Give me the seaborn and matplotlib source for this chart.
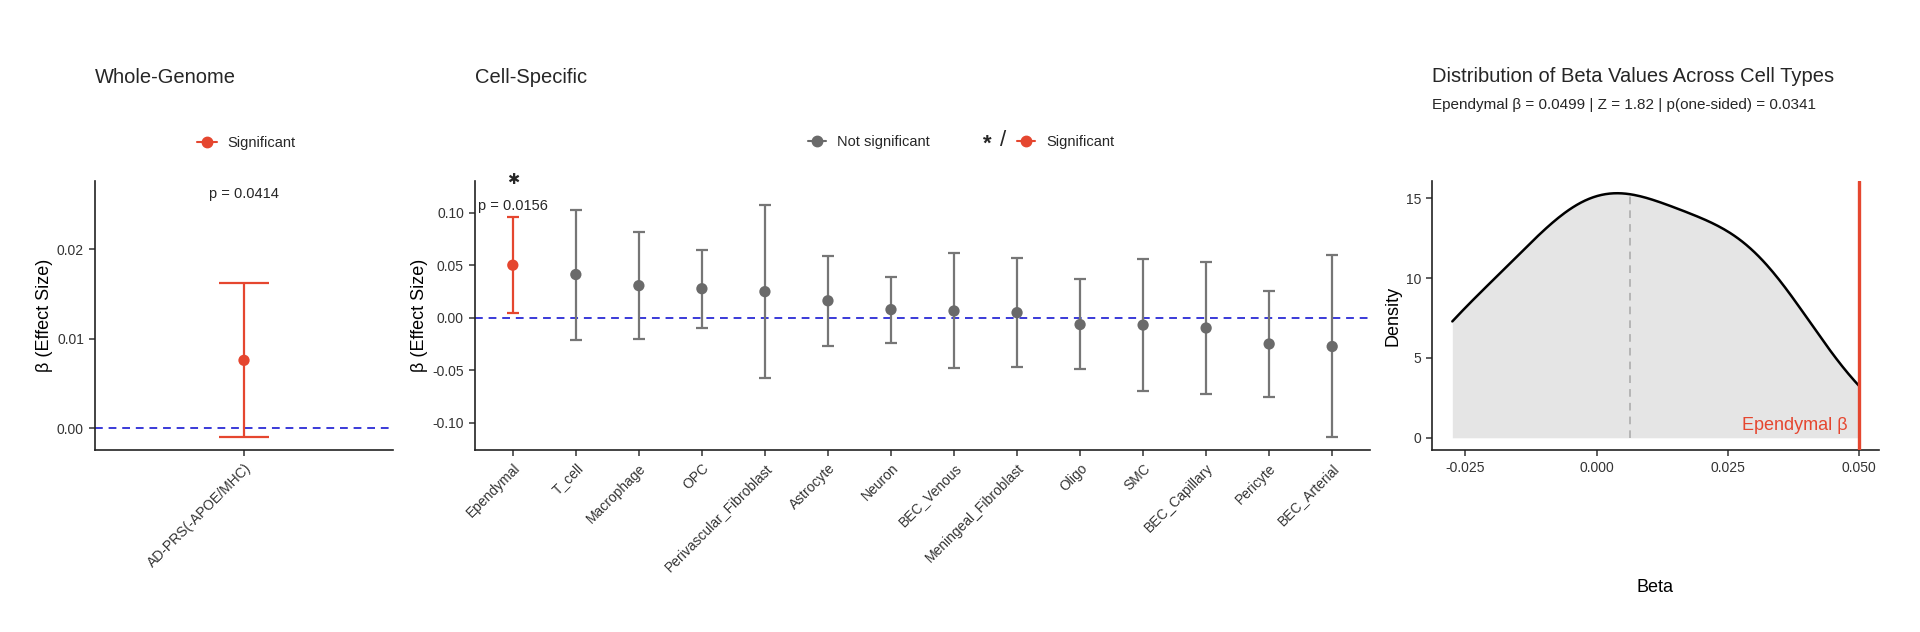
import numpy as np
import pandas as pd
import matplotlib
matplotlib.use('Agg')
import matplotlib.pyplot as plt
from matplotlib.lines import Line2D
import seaborn as sns

# ---- data ----
wg_label = ['AD-PRS(-APOE/MHC)']
wg_beta = [0.0076]
wg_lo = [-0.0010]
wg_hi = [0.0162]
wg_group = ['Significant']
wg_p_text = 'p = 0.0414'

cell_types = ['Ependymal', 'T_cell', 'Macrophage', 'OPC', 'Perivascular_Fibroblast',
              'Astrocyte', 'Neuron', 'BEC_Venous', 'Meningeal_Fibroblast', 'Oligo',
              'SMC', 'BEC_Capillary', 'Pericyte', 'BEC_Arterial']
cell_beta = [0.0499, 0.0410, 0.0304, 0.0275, 0.0247, 0.0160, 0.0076,
             0.0063, 0.0047, -0.0066, -0.0071, -0.0099, -0.0251, -0.0275]
cell_lo = [0.0047, -0.0209, -0.0200, -0.0095, -0.0572, -0.0266, -0.0237,
           -0.0484, -0.0470, -0.0490, -0.0700, -0.0725, -0.0752, -0.1140]
cell_hi = [0.0955, 0.1025, 0.0816, 0.0645, 0.1075, 0.0590, 0.0390,
           0.0614, 0.0570, 0.0370, 0.0562, 0.0525, 0.0256, 0.0596]
cell_group = ['Significant'] + ['Not significant'] * 13
cell_p_text = 'p = 0.0156'

focus_cell = 'Ependymal'
subtitle = 'Ependymal \u03b2 = 0.0499 | Z = 1.82 | p(one-sided) = 0.0341'

RED = '#E5462F'
GREY = '#6A6A6A'
GREY_BAR = '#767676'
BLUE = '#3A3AD8'
palette = {'Significant': RED, 'Not significant': GREY}
bar_palette = {'Significant': RED, 'Not significant': GREY_BAR}

sns.set_theme(style='ticks')
plt.rcParams['font.family'] = ['Liberation Sans', 'DejaVu Sans']
plt.rcParams.update({
    'axes.linewidth': 1.2, 'axes.edgecolor': '#222222',
    'xtick.major.width': 1.1, 'ytick.major.width': 1.1,
    'xtick.major.size': 4.5, 'ytick.major.size': 4.5,
    'xtick.color': '#333333', 'ytick.color': '#333333',
    'xtick.labelsize': 10, 'ytick.labelsize': 10,
})

W, H = 1920, 632
fig = plt.figure(figsize=(W / 100, H / 100), dpi=100)


def rect(l, t, r, b):
    return [l / W, 1 - b / H, (r - l) / W, (b - t) / H]


def fx(x):
    return x / W


def fy(y):
    return 1 - y / H


def draw_effects(ax, labels, beta, lo, hi, groups):
    df = pd.DataFrame({'pos': np.arange(len(labels)), 'beta': beta,
                       'lo': lo, 'hi': hi, 'group': groups})
    cols = df['group'].map(bar_palette).tolist()
    ax.axhline(0, color=BLUE, lw=1.4, ls=(0, (4, 3)), zorder=1)
    ax.vlines(df['pos'], df['lo'], df['hi'], colors=cols, lw=1.6, zorder=2)
    ax.hlines(df['lo'], df['pos'] - 0.1, df['pos'] + 0.1, colors=cols, lw=1.6, zorder=2)
    ax.hlines(df['hi'], df['pos'] - 0.1, df['pos'] + 0.1, colors=cols, lw=1.6, zorder=2)
    sns.scatterplot(data=df, x='pos', y='beta', hue='group', palette=palette,
                    s=66, edgecolor='none', legend=False, ax=ax, zorder=3)
    ax.set_xlim(-0.6, len(labels) - 0.4)
    ax.set_xticks(df['pos'], labels, rotation=45, ha='right', va='top',
                  rotation_mode='anchor')
    ax.set_xlabel('')
    ax.set_ylabel('\u03b2 (Effect Size)', fontsize=13, va='center', color='black')
    ax.yaxis.set_major_formatter(matplotlib.ticker.FormatStrFormatter('%.2f'))
    sns.despine(ax=ax)
    return df


# ---- panel 1: whole genome ----
ax1 = fig.add_axes(rect(95, 181, 393, 450))
d1 = draw_effects(ax1, wg_label, wg_beta, wg_lo, wg_hi, wg_group)
ax1.set_ylim(-0.0024, 0.0276)
ax1.set_yticks([0, 0.01, 0.02])
ax1.text(d1['pos'][0], d1['hi'][0] + 0.0099, wg_p_text, ha='center', va='center', fontsize=10.5)
ax1.yaxis.set_label_coords(-0.168, 0.5)
ax1.text(0, (450 - 83) / 269, 'Whole-Genome', transform=ax1.transAxes,
         ha='left', va='baseline', fontsize=14.5)
ax1.legend([Line2D([], [], color=RED, marker='o', ms=7.5, lw=1.5)], ['Significant'],
           loc='center left', bbox_to_anchor=(fx(197), fy(143)), bbox_transform=fig.transFigure,
           frameon=False, handlelength=1.4, handletextpad=0.7, borderpad=0,
           borderaxespad=0, fontsize=10.5)

# ---- panel 2: cell specific ----
ax2 = fig.add_axes(rect(475, 181, 1370, 450))
d2 = draw_effects(ax2, cell_types, cell_beta, cell_lo, cell_hi, cell_group)
ax2.set_ylim(-0.126, 0.130)
ax2.set_yticks([-0.10, -0.05, 0, 0.05, 0.10])
i_focus = cell_types.index(focus_cell)
ax2.text(i_focus, cell_hi[i_focus] + 0.0105, cell_p_text, ha='center', va='center', fontsize=10.5)
ax2.text(i_focus, 0.131, '\u2731', ha='center', va='center', fontsize=10.5,
         family=['DejaVu Sans'], clip_on=False)
ax2.yaxis.set_label_coords(-0.0615, 0.5)
ax2.text(0, (450 - 83) / 269, 'Cell-Specific', transform=ax2.transAxes,
         ha='left', va='baseline', fontsize=14.5)
ax2.legend([Line2D([], [], color=GREY, marker='o', ms=7.5, lw=1.5),
            Line2D([], [], color=RED, marker='o', ms=7.5, lw=1.5)],
           ['Not significant', 'Significant'], ncol=2, columnspacing=6.0,
           loc='center left', bbox_to_anchor=(fx(808), fy(142)), bbox_transform=fig.transFigure,
           frameon=False, handlelength=1.2, handletextpad=0.8, borderpad=0,
           borderaxespad=0, fontsize=10.5)
fig.text(fx(987), fy(144), '*', ha='center', va='center', fontsize=16, fontweight='bold')
fig.text(fx(1003), fy(141), '/', ha='center', va='center', fontsize=16)

# ---- panel 3: density of the other cell types ----
ax3 = fig.add_axes(rect(1432, 181, 1879, 450))
focus_beta = cell_beta[i_focus]
others = np.array([b for c, b in zip(cell_types, cell_beta) if c != focus_cell])
sd = others.std(ddof=1)
iqr = np.subtract(*np.percentile(others, [75, 25]))
bw = 0.9 * min(sd, iqr / 1.34) * len(others) ** -0.2   # R bw.nrd0
clip = (others.min(), focus_beta)
sns.kdeplot(x=others, bw_method=bw / sd, cut=5, clip=clip, fill=True,
            color='#E5E5E5', alpha=1, linewidth=0, ax=ax3)
sns.kdeplot(x=others, bw_method=bw / sd, cut=5, clip=clip, color='black', lw=1.8, ax=ax3)
kx, ky = ax3.lines[-1].get_data()
mean_beta = others.mean()
ax3.vlines(mean_beta, 0, np.interp(mean_beta, kx, ky), color='#A8A8A8', lw=1.1,
           ls=(0, (5, 4)), zorder=3)
ax3.axvline(focus_beta, color=RED, lw=2.4, zorder=4)
ax3.annotate('Ependymal \u03b2', xy=(focus_beta, 0), xytext=(-8, 5.6), textcoords='offset points',
             ha='right', va='baseline', color=RED, fontsize=13)
span = focus_beta - others.min()
ax3.set_xlim(others.min() - 0.05 * span, focus_beta + 0.05 * span)
ax3.set_ylim(-0.05 * ky.max(), 1.05 * ky.max())
ax3.set_xticks([-0.025, 0, 0.025, 0.05])
ax3.xaxis.set_major_formatter(matplotlib.ticker.FormatStrFormatter('%.3f'))
ax3.set_yticks([0, 5, 10, 15])
ax3.set_ylabel('Density', fontsize=13, va='center', color='black')
ax3.yaxis.set_label_coords(-0.0872, 0.5)
ax3.set_xlabel('Beta', fontsize=13, va='center', color='black')
ax3.xaxis.set_label_coords(0.5, (450 - 587) / 269)
ax3.text(0, (450 - 82) / 269, 'Distribution of Beta Values Across Cell Types',
         transform=ax3.transAxes, ha='left', va='baseline', fontsize=14.5)
ax3.text(0, (450 - 108.5) / 269, subtitle, transform=ax3.transAxes,
         ha='left', va='baseline', fontsize=11)
sns.despine(ax=ax3)

fig.savefig('out.png', dpi=100)
